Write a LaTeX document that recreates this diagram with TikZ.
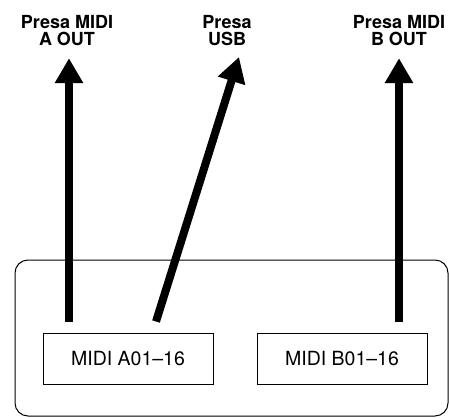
\documentclass[tikz,border=0pt]{standalone}
\usepackage{fontspec}
\setmainfont{TeX Gyre Heros}
\usetikzlibrary{positioning, arrows.meta}

\begin{document}
\begin{tikzpicture}[
    x=1pt, y=-1pt,
    portlabel/.style={anchor=north, inner sep=0pt, align=center, font=\fontsize{18}{17}\selectfont\bfseries},
    partbox/.style={draw, line width=1pt, minimum width=170pt, minimum height=51pt, inner sep=0pt, font=\fontsize{19.5}{20}\selectfont},
    bigarrow/.style={line width=8pt, -{Triangle[length=25pt, width=27pt]}}
]
\useasboundingbox (0,0) rectangle (449,417);

% outer frame
\draw[line width=1pt, rounded corners=13pt] (15,260) rectangle (448,416);

\node[portlabel] (portA) at (67,15.5) {Presa MIDI\\A OUT};
\node[portlabel] (portUSB) at (227,15.5) {Presa\\USB};
\node[portlabel] (portB) at (399,15.5) {Presa MIDI\\B OUT};

\node[partbox] (partA) at (128,358.5) {MIDI A01--16};
\node[partbox] (partB) at (342,358.5) {MIDI B01--16};

\coordinate (usbtip) at (239,57);

\draw[bigarrow] ([xshift=-59pt, yshift=11pt]partA.north) -- ([xshift=2pt, yshift=-12pt]portA.south);
\draw[bigarrow] ([xshift=28pt, yshift=11pt]partA.north) -- (usbtip);
\draw[bigarrow] ([yshift=11pt]partB.north -| portB.south) -- ([yshift=-12pt]portB.south);
\end{tikzpicture}
\end{document}
